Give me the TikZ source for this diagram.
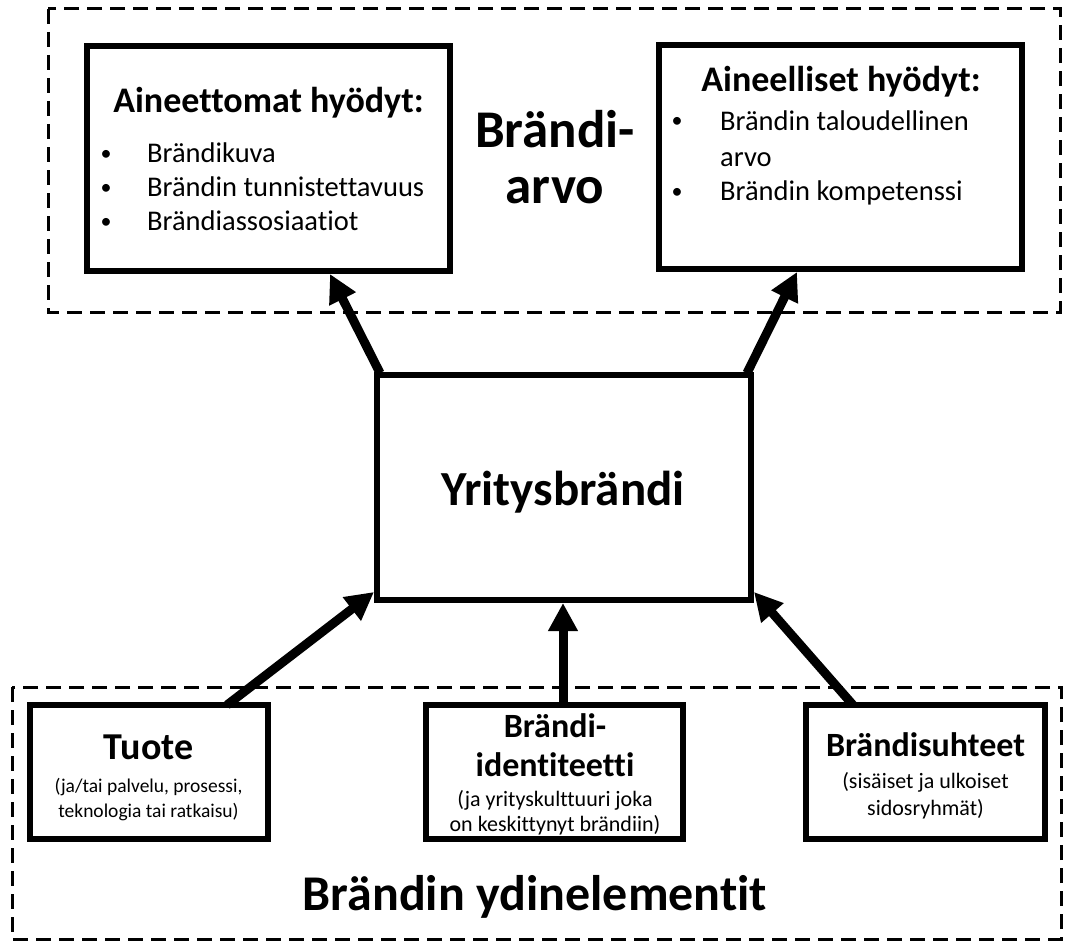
\documentclass[tikz,border=0pt]{standalone}
\usepackage{fontspec}
\setmainfont{Carlito}[Ligatures=NoCommon]
\usetikzlibrary{arrows.meta,calc}
\begin{document}
\begin{tikzpicture}[x=1pt,y=-1pt,
  box/.style={draw, line width=6pt, inner sep=0pt, outer sep=0pt},
  group/.style={draw, line width=3pt, dash pattern=on 15pt off 8pt},
  conn/.style={line width=9pt, -{Triangle[length=28pt,width=28pt]}},
  txt/.style={anchor=base, inner sep=0pt},
  big/.style={txt, font=\fontsize{50}{60}\selectfont\bfseries},
  head/.style={txt, font=\fontsize{36}{42}\selectfont\bfseries},
  sub/.style={txt, font=\fontsize{34}{40}\selectfont\bfseries},
  item/.style={txt, font=\fontsize{28.5}{34}\selectfont},
  small/.style={txt, font=\fontsize{22}{25}\selectfont},
  bul/.style={anchor=base, inner sep=0pt, font=\fontsize{22}{26}\selectfont}]
\useasboundingbox (0,0) rectangle (1080,942);
% groups
\draw[group] (48,9) rectangle (1060,312);
\draw[group] (12,687) rectangle (1061,939);
% boxes
\node[box, minimum width=363pt, minimum height=225pt] (lt) at (268.5,158.5) {};
\node[box, minimum width=363pt, minimum height=224pt] (rt) at (840.5,157) {};
\node[box, minimum width=374pt, minimum height=225pt] (c) at (564,487.5) {};
\node[box, minimum width=238pt, minimum height=134pt] (b1) at (149,772) {};
\node[box, minimum width=257pt, minimum height=134pt] (b2) at (554.5,772) {};
\node[box, minimum width=239pt, minimum height=134pt] (b3) at (925.5,772) {};
% left top text
\node[head] (lth) at (268.5,113) {Aineettomat hyödyt:};
\node[bul] (ltb1) at (106,160) {•};
\node[bul] (ltb2) at (106,194) {•};
\node[bul] (ltb3) at (106,228) {•};
\node[item, anchor=base west] (lti1) at (147,162) {Brändikuva};
\node[item, anchor=base west] (lti2) at (147,196) {Brändin tunnistettavuus};
\node[item, anchor=base west] (lti3) at (147,230) {Brändiassosiaatiot};
% right top text
\node[head] (rth) at (841,92) {Aineelliset hyödyt:};
\node[bul] (rtb1) at (677,128) {•};
\node[bul] (rtb2) at (677,198) {•};
\node[item, anchor=base west] (rti1) at (720,130) {Brändin taloudellinen};
\node[item, anchor=base west] (rti2) at (720,166) {arvo};
\node[item, anchor=base west] (rti3) at (720,200) {Brändin kompetenssi};
% Brändiarvo
\node[big, font=\fontsize{53}{60}\selectfont\bfseries] (ba1) at (555,147) {Brändi-};
\node[big, font=\fontsize{53}{60}\selectfont\bfseries] (ba2) at (555,203) {arvo};
% center
\node[big, font=\fontsize{49}{58}\selectfont\bfseries] (ct) at (563,505) {Yritysbrändi};
% bottom boxes text
\node[txt, font=\fontsize{38}{44}\selectfont\bfseries] (t1) at (148.5,759) {Tuote};
\node[small, font=\fontsize{19.5}{24}\selectfont] (t1a) at (148.5,792) {(ja/tai palvelu, prosessi,};
\node[small, font=\fontsize{19.5}{24}\selectfont] (t1b) at (148.5,817) {teknologia tai ratkaisu)};
\node[sub] (t2) at (555,737) {Brändi-};
\node[sub] (t2b) at (555,776) {identiteetti};
\node[small] (t2c) at (555,806) {(ja yrityskulttuuri joka};
\node[small] (t2d) at (555,831) {on keskittynyt brändiin)};
\node[sub] (t3) at (925.5,756) {Brändisuhteet};
\node[small] (t3a) at (925.5,788) {(sisäiset ja ulkoiset};
\node[small] (t3b) at (925.5,815) {sidosryhmät)};
\node[big] (ye) at (535,910) {Brändin ydinelementit};
% connectors
\draw[conn] ($(c.north west)+(3,-2)$) -- ($(lt.south west)+(243,3)$);
\draw[conn] ($(c.north east)+(-4,-2)$) -- ($(rt.south west)+(138,3)$);
\draw[conn] ($(b1.north west)+(197,0)$) -- ($(c.south west)+(-3,-8)$);
\draw[conn] ($(b2.north west)+(137,0)$) -- ($(c.south west)+(186,3)$);
\draw[conn] ($(b3.north west)+(47,0)$) -- ($(c.south east)+(3,-8)$);
\end{tikzpicture}
\end{document}
